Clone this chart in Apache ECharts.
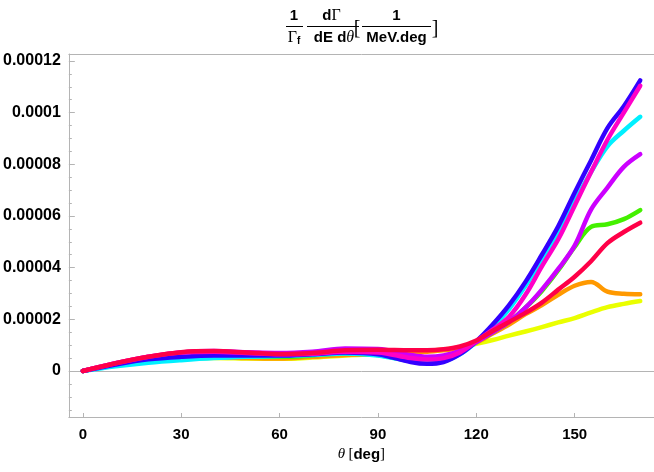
<!DOCTYPE html>
<html><head><meta charset="utf-8">
<script src="https://cdn.jsdelivr.net/npm/echarts@6/dist/echarts.min.js"></script>
<style>html,body{margin:0;padding:0;background:#fff}#c{width:654px;height:472px}</style>
</head><body><div id="c"></div>
<script>
// angle samples (deg)
const theta = [0,10,20,30,40,50,60,70,80,90,100,105,110,115,120,125,130,135,140,145,150,155,160,165,170];
// values in units of 1e-5
const SCALE = 1e-5;
const yellowVals = [0,0.25,0.40,0.48,0.50,0.48,0.47,0.52,0.60,0.65,0.72,0.77,0.83,0.92,1.05,1.20,1.37,1.53,1.70,1.88,2.05,2.27,2.47,2.60,2.71];
const orangeVals = [0,0.25,0.42,0.50,0.52,0.50,0.48,0.55,0.62,0.65,0.72,0.75,0.80,0.90,1.10,1.45,1.80,2.20,2.55,2.95,3.30,3.45,3.07,2.99,2.97];
const greenVals  = [0,0.22,0.40,0.50,0.55,0.55,0.55,0.60,0.68,0.62,0.40,0.38,0.45,0.70,1.12,1.50,1.90,2.45,3.10,3.90,4.80,5.58,5.68,5.88,6.23];
const cyanVals   = [0,0.18,0.32,0.42,0.50,0.55,0.58,0.62,0.68,0.60,0.38,0.32,0.38,0.65,1.12,1.70,2.40,3.30,4.30,5.35,6.55,7.70,8.70,9.30,9.84];
const purpleVals = [0,0.30,0.55,0.72,0.77,0.73,0.70,0.75,0.87,0.85,0.62,0.55,0.60,0.78,1.12,1.50,1.90,2.45,3.15,3.95,4.85,6.25,7.10,7.90,8.39];
const blueVals   = [0,0.25,0.45,0.55,0.60,0.60,0.60,0.65,0.72,0.65,0.35,0.28,0.35,0.65,1.15,1.80,2.55,3.45,4.50,5.60,6.90,8.15,9.40,10.25,11.25];
const pinkVals   = [0,0.30,0.55,0.72,0.75,0.70,0.65,0.67,0.75,0.72,0.50,0.45,0.50,0.72,1.15,1.60,2.10,2.95,4.05,5.10,6.40,7.70,8.95,10.00,11.04];
const redVals    = [0,0.30,0.55,0.73,0.77,0.72,0.66,0.70,0.80,0.82,0.80,0.80,0.84,0.95,1.18,1.55,1.90,2.25,2.65,3.15,3.65,4.25,4.95,5.38,5.74];

const xTicks = [0,30,60,90,120,150];
const yTicks = [0,0.00002,0.00004,0.00006,0.00008,0.0001,0.00012];
const yTickLabels = ['0','0.00002','0.00004','0.00006','0.00008','0.0001','0.00012'];
const yMinorTicks = [-0.000015,-0.00001,-0.000005,0.000005,0.00001,0.000015,0.000025,0.00003,0.000035,0.000045,0.00005,0.000055,0.000065,0.00007,0.000075,0.000085,0.00009,0.000095,0.000105,0.00011,0.000115];

const seriesDefs = [
  ['yellow', yellowVals, '#eaff00'],
  ['orange', orangeVals, '#ff9900'],
  ['green', greenVals, '#44f000'],
  ['cyan', cyanVals, '#00f0ff'],
  ['purple', purpleVals, '#cc00ff'],
  ['blue', blueVals, '#3300ff'],
  ['pink', pinkVals, '#ff00c8'],
  ['red', redVals, '#ff0048']
];

const XMIN = -4.26, XMAX = 174.2, YMIN = -0.0000178, YMAX = 0.0001227;
const GRAY = '#b4b4b4';
const FONT = '"Liberation Sans", Arial, sans-serif';
const SERIF = '"Liberation Serif", "DejaVu Serif", serif';

const series = seriesDefs.map(([name, vals, color], i) => ({
  name, type: 'line', smooth: 0.35, showSymbol: false, symbol: 'none',
  xAxisIndex: 0, yAxisIndex: 0,
  data: theta.map((t, k) => [t, vals[k] * SCALE]),
  lineStyle: { color, width: 4.5, cap: 'round', join: 'round' },
  z: 3 + i, silent: true,
  markLine: i === 0 ? {
    silent: true, symbol: 'none', label: { show: false },
    lineStyle: { color: GRAY, width: 1, type: 'solid' },
    data: [{ yAxis: 0 }], z: 1
  } : undefined
}));

const chart = echarts.init(document.getElementById('c'), null, { renderer: 'canvas' });
chart.setOption({
  animation: false,
  backgroundColor: '#fff',
  grid: { left: 68, right: 0, top: 54, bottom: 55, containLabel: false },
  xAxis: [{
    type: 'value', min: XMIN, max: XMAX, position: 'bottom',
    axisLine: { show: true, onZero: false, lineStyle: { color: GRAY, width: 1 } },
    axisTick: { show: true, inside: true, length: 4, customValues: xTicks, lineStyle: { color: GRAY } },
    axisLabel: { customValues: xTicks, margin: 10, color: '#000', fontWeight: 'bold', fontSize: 15, fontFamily: FONT },
    splitLine: { show: false },
    name: '{t|θ} {n|[}{b|deg}{n|]}', nameLocation: 'middle', nameGap: 30,
    nameTextStyle: { rich: {
      t: { fontFamily: SERIF, fontStyle: 'italic', fontSize: 15, color: '#000' },
      n: { fontFamily: SERIF, fontSize: 15, color: '#000' },
      b: { fontFamily: FONT, fontWeight: 'bold', fontSize: 15, color: '#000' }
    } }
  }, {
    type: 'value', min: XMIN, max: XMAX, position: 'top',
    axisLine: { show: true, onZero: false, lineStyle: { color: GRAY, width: 1 } },
    axisTick: { show: false }, axisLabel: { show: false }, splitLine: { show: false }
  }],
  yAxis: [{
    type: 'value', min: YMIN, max: YMAX, position: 'left',
    axisLine: { show: true, onZero: false, lineStyle: { color: GRAY, width: 1 } },
    axisTick: { show: true, inside: true, length: 6, customValues: yTicks, lineStyle: { color: GRAY } },
    axisLabel: { customValues: yTicks, margin: 8, color: '#000', fontWeight: 'bold', fontSize: 16, fontFamily: FONT,
      formatter: (v) => { const i = yTicks.findIndex(t => Math.abs(t - v) < 1e-9); return i >= 0 ? yTickLabels[i] : ''; } },
    splitLine: { show: false }
  }, {
    type: 'value', min: YMIN, max: YMAX, position: 'left',
    axisLine: { show: false, onZero: false },
    axisTick: { show: true, inside: true, length: 3, customValues: yMinorTicks, lineStyle: { color: GRAY } },
    axisLabel: { show: false }, splitLine: { show: false }
  }],
  graphic: [
    { type: 'text', x: 294, y: 16, style: { text: '1', font: 'bold 15px ' + FONT, fill: '#000', align: 'center', verticalAlign: 'middle' } },
    { type: 'rect', shape: { x: 286, y: 26, width: 17, height: 1 }, style: { fill: '#000' } },
    { type: 'text', x: 294, y: 38, style: { text: '{g|Γ}{s|f}', align: 'center', verticalAlign: 'middle',
        rich: { g: { font: '16px ' + SERIF, fill: '#000' }, s: { font: 'bold 10px ' + FONT, fill: '#000', padding: [6, 0, 0, 0] } } } },
    { type: 'text', x: 331.5, y: 16, style: { text: '{d|d}{g|Γ}', align: 'center', verticalAlign: 'middle',
        rich: { d: { font: 'bold 15px ' + FONT, fill: '#000' }, g: { font: '16px ' + SERIF, fill: '#000' } } } },
    { type: 'rect', shape: { x: 307, y: 26, width: 52, height: 1 }, style: { fill: '#000' } },
    { type: 'text', x: 334, y: 38, style: { text: '{d|dE d}{t|θ}', align: 'center', verticalAlign: 'middle',
        rich: { d: { font: 'bold 15px ' + FONT, fill: '#000' }, t: { font: 'italic 16px ' + SERIF, fill: '#000' } } } },
    { type: 'text', x: 357, y: 29, style: { text: '[', font: '20px ' + SERIF, fill: '#000', align: 'center', verticalAlign: 'middle' } },
    { type: 'text', x: 396.5, y: 16, style: { text: '1', font: 'bold 15px ' + FONT, fill: '#000', align: 'center', verticalAlign: 'middle' } },
    { type: 'rect', shape: { x: 362, y: 26, width: 69, height: 1 }, style: { fill: '#000' } },
    { type: 'text', x: 396.5, y: 38, style: { text: 'MeV.deg', font: 'bold 15px ' + FONT, fill: '#000', align: 'center', verticalAlign: 'middle' } },
    { type: 'text', x: 435, y: 29, style: { text: ']', font: '20px ' + SERIF, fill: '#000', align: 'center', verticalAlign: 'middle' } }
  ],
  series
});
</script></body></html>
